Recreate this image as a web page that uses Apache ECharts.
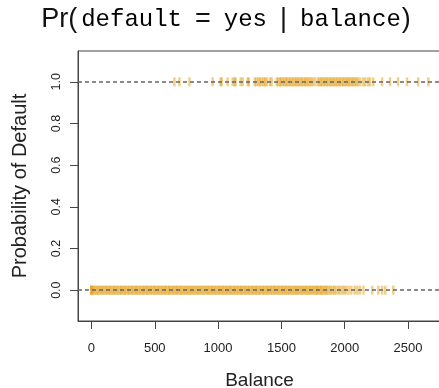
<!DOCTYPE html>
<html><head><meta charset="utf-8">
<script src="https://cdn.jsdelivr.net/npm/echarts@6/dist/echarts.min.js"></script>
<style>html,body{margin:0;padding:0;background:#fff}#c{width:439px;height:388px}</style>
</head><body><div id="c"></div>
<script>
// Balance values of non-defaulters (drawn at probability 0)
const noDefaultBalance = [0, 0, 0, 10, 21, 30, 42, 51, 63, 72, 84, 95, 104, 117, 126, 138, 149, 158, 170, 181, 190, 203, 212, 224, 235, 244, 256, 267, 276, 289, 298, 310, 321, 330, 342, 353, 362, 375, 384, 396, 407, 416, 428, 439, 448, 461, 470, 482, 493, 502, 514, 525, 534, 547, 556, 568, 579, 588, 600, 611, 620, 633, 642, 654, 665, 674, 686, 697, 706, 719, 728, 740, 751, 760, 772, 783, 792, 805, 814, 826, 837, 846, 858, 869, 878, 891, 900, 912, 923, 932, 944, 955, 964, 977, 986, 998, 1009, 1018, 1030, 1041, 1050, 1063, 1072, 1084, 1095, 1104, 1116, 1127, 1136, 1149, 1158, 1170, 1181, 1190, 1202, 1213, 1222, 1235, 1244, 1256, 1267, 1276, 1288, 1299, 1308, 1321, 1330, 1342, 1353, 1362, 1374, 1385, 1394, 1407, 1416, 1428, 1439, 1448, 1460, 1471, 1480, 1493, 1502, 1514, 1525, 1534, 1546, 1557, 1566, 1579, 1588, 1600, 1611, 1620, 1632, 1643, 1652, 1665, 1674, 1686, 1697, 1706, 1718, 1729, 1738, 1751, 1760, 1772, 1781,
  1790, 1801, 1812, 1820, 1833, 1841, 1855, 1862, 1878, 1890, 1905, 1918, 1930, 1948, 1962, 1980, 1995, 2010, 2031, 2052, 2078, 2098, 2120, 2148, 2217, 2265, 2295, 2320, 2383];
// Balance values of defaulters (drawn at probability 1)
const defaultBalance = [655, 695, 774, 957, 1020, 1028, 1075, 1115, 1131, 1138, 1178, 1194, 1234, 1242,
  1290, 1302, 1318, 1330, 1345, 1360, 1372, 1385, 1410, 1423,
  1463, 1475, 1488, 1497, 1510, 1522, 1535, 1545, 1558, 1570, 1582, 1593, 1605, 1617, 1628, 1640, 1652, 1663, 1675, 1688, 1698, 1710, 1722, 1735, 1748, 1766,
  1788, 1800, 1812, 1823, 1835, 1847, 1858, 1870, 1882, 1893, 1905, 1917, 1928, 1940, 1952, 1963, 1975, 1987, 1998, 2010, 2022, 2033, 2045, 2057, 2068, 2080, 2092, 2103, 2121,
  2145, 2162, 2185, 2200, 2225, 2295, 2358, 2421, 2492, 2580, 2660];
const xTicks = [0, 500, 1000, 1500, 2000, 2500];
const yTicks = [0, 0.2, 0.4, 0.6, 0.8, 1.0];
const refLines = [0, 1];

const chart = echarts.init(document.getElementById('c'), null, {renderer: 'canvas'});
const markColor = 'rgba(224,152,0,0.58)';
const axisCol = '#444';
const lblFont = 'Liberation Sans';
chart.setOption({
  animation: false,
  graphic: [{
    type: 'text', z: 100,
    style: {
      x: 226, y: 20, align: 'center', verticalAlign: 'middle',
      text: '{p|Pr(}{m|default}{e|=}{m|yes}{b||}{m|balance}{q|)}',
      rich: {
        p: {fontFamily: 'Liberation Sans', fontSize: 27, fill: '#111', padding: [0, 4, 0, 0]},
        q: {fontFamily: 'Liberation Sans', fontSize: 27, fill: '#111', padding: [0, 0, 0, 1]},
        e: {fontFamily: 'Liberation Sans', fontSize: 27, fill: '#111', padding: [0, 13, 0, 13]},
        b: {fontFamily: 'Liberation Sans', fontSize: 27, fill: '#111', padding: [0, 13, 0, 13]},
        m: {fontFamily: 'Liberation Mono', fontSize: 24, fill: '#000'}
      }
    }
  }],
  grid: {left: 78, top: 51, right: -2, bottom: 67, show: true, borderColor: axisCol, borderWidth: 1,
    backgroundColor: 'transparent', containLabel: false, outerBoundsMode: 'none'},
  xAxis: {
    type: 'value', min: -106, max: 2760,
    name: 'Balance', nameLocation: 'middle', nameGap: 50,
    nameTextStyle: {fontFamily: lblFont, fontSize: 19, color: '#222'},
    axisLine: {show: true, onZero: false, lineStyle: {color: axisCol, width: 1}}, splitLine: {show: false},
    axisTick: {show: true, customValues: xTicks, length: 8, lineStyle: {color: axisCol}},
    axisLabel: {customValues: xTicks, margin: 21, fontFamily: lblFont, fontSize: 13, color: '#222',
      formatter: v => String(v)}
  },
  yAxis: {
    type: 'value', min: -0.148, max: 1.148,
    name: 'Probability of Default', nameLocation: 'middle', nameGap: 48,
    nameTextStyle: {fontFamily: lblFont, fontSize: 20, color: '#222'},
    axisLine: {show: true, onZero: false, lineStyle: {color: axisCol, width: 1}}, splitLine: {show: false},
    axisTick: {show: true, customValues: yTicks, length: 8, lineStyle: {color: axisCol}},
    axisLabel: {customValues: yTicks, margin: 15, rotate: 90, align: 'center', verticalAlign: 'bottom',
      formatter: v => v.toFixed(1), fontFamily: lblFont, fontSize: 12.5, color: '#222'}
  },
  series: [
    {type: 'scatter', symbol: 'rect', symbolSize: [2.5, 9], itemStyle: {color: markColor}, silent: true,
      data: noDefaultBalance.map(b => [b, 0])},
    {type: 'scatter', symbol: 'rect', symbolSize: [2.5, 9], itemStyle: {color: markColor}, silent: true,
      data: defaultBalance.map(b => [b, 1])},
    {type: 'line', data: [], z: 10, silent: true,
      markLine: {silent: true, symbol: 'none', label: {show: false},
        lineStyle: {color: '#666', type: [4, 3], width: 1.5},
        data: refLines.map(v => ({yAxis: v}))}}
  ]
});
</script></body></html>
